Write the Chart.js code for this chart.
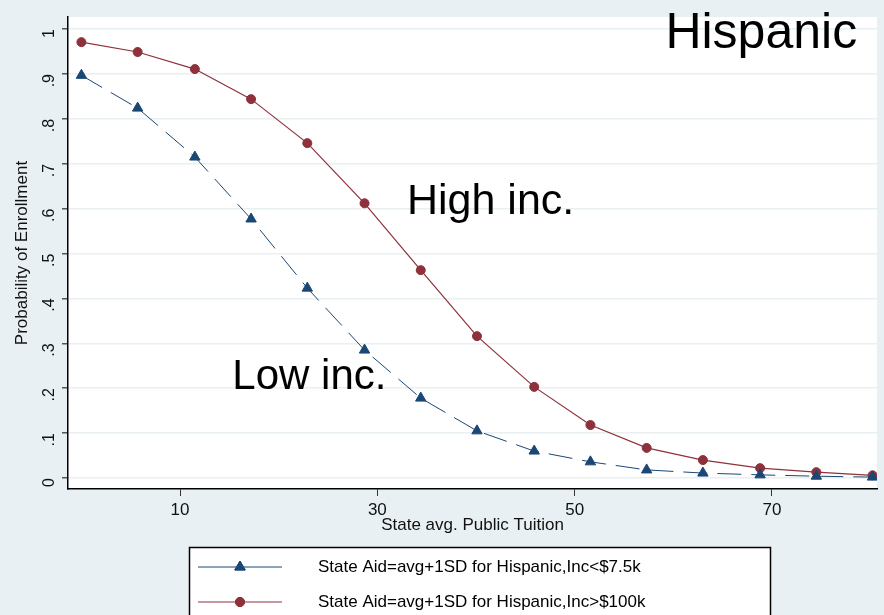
<!DOCTYPE html>
<html>
<head>
<meta charset="utf-8">
<script src="https://cdn.jsdelivr.net/npm/chart.js@4/dist/chart.umd.min.js"></script>
<style>
  html, body { margin: 0; padding: 0; background: #e9f0f3; }
  #wrap { width: 884px; height: 615px; }
</style>
</head>
<body>
<div id="wrap"><canvas id="chart" width="884" height="615"></canvas></div>
<script>
// Data
const tuition = [0, 5.7, 11.5, 17.2, 22.9, 28.7, 34.4, 40.1, 45.9, 51.6, 57.3, 63.0, 68.8, 74.5, 80.2];
const lowInc = [0.897, 0.824, 0.715, 0.577, 0.423, 0.285, 0.178, 0.105, 0.060, 0.036, 0.018, 0.011, 0.007, 0.004, 0.002];
const highInc = [0.971, 0.949, 0.911, 0.844, 0.746, 0.612, 0.463, 0.316, 0.203, 0.118, 0.067, 0.040, 0.022, 0.013, 0.006];
const xTicks = [10, 30, 50, 70];
const yTicks = [0, 0.1, 0.2, 0.3, 0.4, 0.5, 0.6, 0.7, 0.8, 0.9, 1];
const seriesLabels = [
  'State Aid=avg+1SD for Hispanic,Inc<$7.5k',
  'State Aid=avg+1SD for Hispanic,Inc>$100k'
];

const blue = '#1b4775';
const red = '#8e313b';
const font = '"Liberation Sans", Arial, sans-serif';

function toPoints(ys) {
  return tuition.map((x, i) => ({ x: x, y: ys[i] }));
}

// background + white plot region
const bgPlugin = {
  id: 'bg',
  beforeDraw(chart) {
    const { ctx, chartArea: a } = chart;
    ctx.save();
    ctx.fillStyle = '#e9f0f3';
    ctx.fillRect(0, 0, chart.width, chart.height);
    ctx.fillStyle = '#ffffff';
    ctx.fillRect(a.left, a.top, a.right - a.left, a.bottom - a.top);
    ctx.restore();
  }
};

// big text labels inside the plot
const notes = [
  { text: 'Hispanic', x: 59.2, y: 0.957, size: 50 },
  { text: 'High inc.', x: 33.0, y: 0.588, size: 43 },
  { text: 'Low inc.', x: 15.3, y: 0.198, size: 42 }
];
const notesPlugin = {
  id: 'notes',
  afterDatasetsDraw(chart) {
    const { ctx, scales } = chart;
    ctx.save();
    ctx.fillStyle = '#000';
    ctx.textBaseline = 'alphabetic';
    notes.forEach(n => {
      ctx.font = n.size + 'px ' + font;
      ctx.fillText(n.text, scales.x.getPixelForValue(n.x), scales.y.getPixelForValue(n.y));
    });
    ctx.restore();
  }
};

// Stata style boxed legend under the plot
const legendPlugin = {
  id: 'boxLegend',
  afterDraw(chart) {
    const ctx = chart.ctx;
    ctx.save();
    ctx.fillStyle = '#fff';
    ctx.fillRect(189, 547, 581, 80);
    ctx.strokeStyle = '#000';
    ctx.lineWidth = 1.5;
    ctx.strokeRect(189.5, 547.5, 581, 80);
    chart.data.datasets.forEach((ds, i) => {
      const y = 567 + i * 35;
      ctx.strokeStyle = ds.borderColor;
      ctx.lineWidth = 1;
      ctx.beginPath();
      ctx.moveTo(198, y);
      ctx.lineTo(282, y);
      ctx.stroke();
      Chart.helpers.drawPoint(ctx, {
        pointStyle: ds.pointStyle,
        radius: ds.pointRadius,
        borderWidth: 1
      }, 240, y);
      ctx.fillStyle = ds.pointBackgroundColor;
      ctx.strokeStyle = ds.pointBorderColor;
      ctx.fill();
      ctx.stroke();
      ctx.fillStyle = '#000';
      ctx.font = '17px ' + font;
      ctx.textBaseline = 'middle';
      ctx.fillText(seriesLabels[i], 318, y);
    });
    ctx.restore();
  }
};

new Chart(document.getElementById('chart'), {
  type: 'line',
  data: {
    datasets: [
      {
        label: seriesLabels[0],
        data: toPoints(lowInc),
        borderColor: blue,
        borderWidth: 1,
        borderDash: [24, 10],
        pointStyle: 'triangle',
        pointRadius: 6,
        pointBorderWidth: 1,
        pointBackgroundColor: blue,
        pointBorderColor: blue,
        tension: 0
      },
      {
        label: seriesLabels[1],
        data: toPoints(highInc),
        borderColor: red,
        borderWidth: 1.2,
        pointStyle: 'circle',
        pointRadius: 4.5,
        pointBorderWidth: 1,
        pointBackgroundColor: red,
        pointBorderColor: red,
        tension: 0
      }
    ]
  },
  options: {
    responsive: false,
    animation: false,
    layout: { padding: { top: 17, right: 0, left: 0, bottom: 78 } },
    plugins: {
      legend: { display: false },
      tooltip: { enabled: false }
    },
    scales: {
      x: {
        type: 'linear',
        min: -1.36,
        max: 80.65,
        afterBuildTicks: s => { s.ticks = xTicks.map(v => ({ value: v })); },
        afterFit: s => { s.height = 48; s.paddingLeft = 0; s.paddingRight = 0; },
        border: { color: '#000', width: 1.5 },
        grid: { drawOnChartArea: false, tickLength: 7, tickColor: '#333' },
        ticks: { color: '#111', font: { family: font, size: 17 }, padding: 4, maxRotation: 0 },
        title: {
          display: true,
          text: 'State avg. Public Tuition',
          color: '#111',
          font: { family: font, size: 17 },
          padding: { top: 0, bottom: 1 }
        }
      },
      y: {
        min: -0.0245,
        max: 1.027,
        afterBuildTicks: s => { s.ticks = yTicks.map(v => ({ value: v })); },
        afterFit: s => { s.width = 68; s.paddingTop = 0; s.paddingBottom = 0; },
        border: { color: '#000', width: 1.5 },
        grid: { color: '#e8f0f1', lineWidth: 1.5, tickLength: 6, tickColor: '#555' },
        ticks: {
          color: '#111',
          font: { family: font, size: 16 },
          minRotation: 90,
          maxRotation: 90,
          padding: 12,
          callback: v => (v === 0 ? '0' : v === 1 ? '1' : v.toFixed(1).replace(/^0/, ''))
        },
        title: {
          display: true,
          text: 'Probability of Enrollment',
          color: '#111',
          font: { family: font, size: 17 },
          padding: { top: 12, bottom: 0 }
        }
      }
    }
  },
  plugins: [bgPlugin, notesPlugin, legendPlugin]
});
</script>
</body>
</html>
